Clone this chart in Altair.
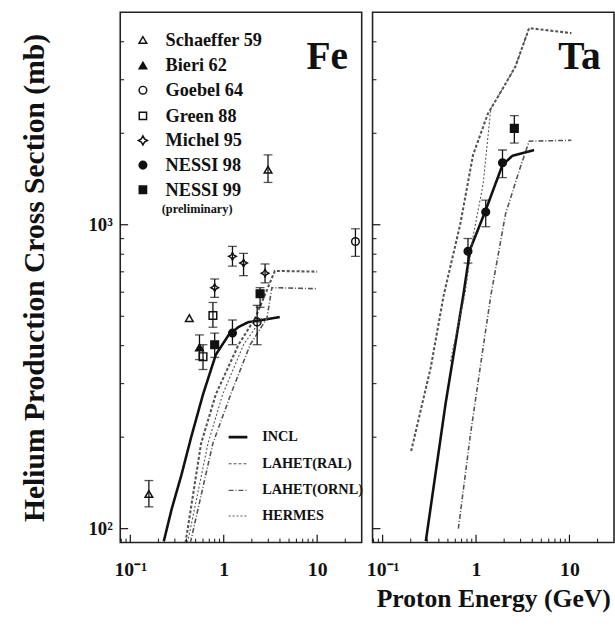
import altair as alt
import pandas as pd

FONT = "Liberation Serif"
INK = "#111111"

# ---------------- tick values ----------------
X_MAJOR = [0.1, 1, 10]
X_MINOR = [0.08, 0.09, 0.2, 0.3, 0.4, 0.5, 0.6, 0.7, 0.8, 0.9,
           2, 3, 4, 5, 6, 7, 8, 9, 20]
Y_MAJOR = [100, 1000]
Y_MINOR = [200, 300, 400, 500, 600, 700, 800, 900, 2000, 3000, 4000]

X_DOMAIN = [0.078, 30]
Y_DOMAIN = [90, 5000]

# ---------------- Fe : experimental data (GeV, mb, err low, err high) ----------------
fe_schaeffer_e = [0.158, 0.428, 2.98]
fe_schaeffer_s = [130, 493, 1517]
fe_schaeffer_lo = [118, None, 1378]
fe_schaeffer_hi = [144, None, 1698]

fe_bieri_e = [0.55]
fe_bieri_s = [395]
fe_bieri_lo = [360]
fe_bieri_hi = [434]

fe_goebel_e = [2.28, 25.7]
fe_goebel_s = [479, 881]
fe_goebel_lo = [403, 787]
fe_goebel_hi = [543, 970]

fe_green_e = [0.60, 0.766]
fe_green_s = [368, 503]
fe_green_lo = [334, 460]
fe_green_hi = [403, 555]

fe_michel_e = [0.80, 1.24, 1.63, 2.77]
fe_michel_s = [621, 787, 748, 693]
fe_michel_lo = [577, 731, 680, 644]
fe_michel_hi = [663, 849, 805, 743]

fe_nessi98_e = [1.24]
fe_nessi98_s = [440]
fe_nessi98_lo = [403]
fe_nessi98_hi = [486]

fe_nessi99_e = [0.80, 2.45]
fe_nessi99_s = [403, 593]
fe_nessi99_lo = [366, 535]
fe_nessi99_hi = [440, 621]

# ---------------- Ta : experimental data ----------------
ta_nessi98_e = [0.82, 1.27, 1.92]
ta_nessi98_s = [818, 1102, 1600]
ta_nessi98_lo = [748, 985, 1429]
ta_nessi98_hi = [901, 1205, 1762]

ta_nessi99_e = [2.57]
ta_nessi99_s = [2075]
ta_nessi99_lo = [1857]
ta_nessi99_hi = [2286]

# ---------------- model curves ----------------
fe_incl_e = [0.228, 0.277, 0.352, 0.450, 0.601, 0.824, 1.13, 1.44, 1.83, 2.57, 3.98]
fe_incl_s = [90.8, 116, 150, 201, 277, 374, 434, 461, 478, 486, 497]
fe_ral_e = [0.39, 0.573, 0.824, 1.44, 2.17, 3.53, 10]
fe_ral_s = [90, 191, 277, 403, 493, 705, 701]
fe_ornl_e = [0.44, 0.766, 1.19, 1.92, 2.90, 3.28, 10]
fe_ornl_s = [90, 191, 277, 403, 493, 621, 616]
fe_hermes_e = [0.41, 0.679, 0.976, 1.63, 2.57]
fe_hermes_s = [90, 191, 277, 403, 493]

ta_incl_e = [0.290, 0.472, 0.730, 0.865, 1.27, 1.92, 2.45, 4.18]
ta_incl_s = [91, 258, 585, 830, 1118, 1574, 1686, 1762]
ta_ral_e = [0.202, 0.328, 0.45, 0.679, 0.929, 1.34, 1.92, 2.64, 3.70, 10.5]
ta_ral_s = [180, 340, 585, 1007, 1698, 2321, 2797, 3318, 4436, 4272]
ta_ornl_e = [0.647, 0.865, 1.19, 1.44, 2.07, 2.90, 3.70, 10.5]
ta_ornl_s = [100, 201, 394, 585, 1086, 1507, 1884, 1896]
ta_hermes_e = [0.53, 0.766, 0.929, 1.19, 1.44, 1.92, 2.64, 3.70]
ta_hermes_s = [355, 598, 914, 1359, 2410, 2797, 3318, 4436]

SERIES = ["Schaeffer 59", "Bieri 62", "Goebel 64", "Green 88",
          "Michel 95", "NESSI 98", "NESSI 99"]
MODELS = ["INCL", "LAHET(RAL)", "LAHET(ORNL)", "HERMES"]

# ---------------- styles ----------------
MICHEL_PATH = "M0,-1L0.35,-0.35L1,0L0.35,0.35L0,1L-0.35,0.35L-1,0L-0.35,-0.35Z"
SHAPES = ["triangle-up", "triangle-up", "circle", "square", MICHEL_PATH, "circle", "square"]
FILLS = ["transparent", INK, "transparent", "transparent", "transparent", INK, INK]
SIZES = [60, 60, 60, 55, 85, 60, 55]
DASHES = [[1, 0], [3, 2], [5, 2, 1, 2], [2, 2]]
WIDTHS = [2.6, 1.1, 1.1, 1.1]
LCOLORS = [INK, "#555555", "#555555", "#555555"]

W, H = 245, 538


def pts(series, e, s, lo, hi):
    return pd.DataFrame({"series": series, "x": e, "y": s, "lo": lo, "hi": hi})


def crv(model, e, s):
    return pd.DataFrame({"model": model, "x": e, "y": s})


fe_points = pd.concat([
    pts("Schaeffer 59", fe_schaeffer_e, fe_schaeffer_s, fe_schaeffer_lo, fe_schaeffer_hi),
    pts("Bieri 62", fe_bieri_e, fe_bieri_s, fe_bieri_lo, fe_bieri_hi),
    pts("Goebel 64", fe_goebel_e, fe_goebel_s, fe_goebel_lo, fe_goebel_hi),
    pts("Green 88", fe_green_e, fe_green_s, fe_green_lo, fe_green_hi),
    pts("Michel 95", fe_michel_e, fe_michel_s, fe_michel_lo, fe_michel_hi),
    pts("NESSI 98", fe_nessi98_e, fe_nessi98_s, fe_nessi98_lo, fe_nessi98_hi),
    pts("NESSI 99", fe_nessi99_e, fe_nessi99_s, fe_nessi99_lo, fe_nessi99_hi),
], ignore_index=True)

ta_points = pd.concat([
    pts("NESSI 98", ta_nessi98_e, ta_nessi98_s, ta_nessi98_lo, ta_nessi98_hi),
    pts("NESSI 99", ta_nessi99_e, ta_nessi99_s, ta_nessi99_lo, ta_nessi99_hi),
], ignore_index=True)

fe_curves = pd.concat([
    crv("INCL", fe_incl_e, fe_incl_s),
    crv("LAHET(RAL)", fe_ral_e, fe_ral_s),
    crv("LAHET(ORNL)", fe_ornl_e, fe_ornl_s),
    crv("HERMES", fe_hermes_e, fe_hermes_s),
], ignore_index=True)

ta_curves = pd.concat([
    crv("INCL", ta_incl_e, ta_incl_s),
    crv("LAHET(RAL)", ta_ral_e, ta_ral_s),
    crv("LAHET(ORNL)", ta_ornl_e, ta_ornl_s),
    crv("HERMES", ta_hermes_e, ta_hermes_s),
], ignore_index=True)


def xs():
    return alt.Scale(type="log", domain=X_DOMAIN, nice=False, padding=0)


def ys():
    return alt.Scale(type="log", domain=Y_DOMAIN, nice=False, padding=0)


def panel(curves, points, name, left, legend):
    xkw = dict(values=X_MAJOR,
               labelExpr="datum.value < 0.5 ? '10⁻¹' : (datum.value < 5 ? '1' : '10')",
               tickSize=0, domain=False, grid=False, labelFlush=False,
               labelFont=FONT, labelFontSize=20, labelFontWeight="bold",
               labelColor=INK, labelPadding=17)
    if left:
        xkw["title"] = None
    else:
        xkw.update(title="Proton Energy (GeV)", titleFont=FONT, titleFontSize=26,
                   titleFontWeight="bold", titleColor=INK, titlePadding=7)
    x_enc = alt.X("x:Q", scale=xs(), axis=alt.Axis(**xkw))
    if left:
        y_enc = alt.Y("y:Q", scale=ys(), axis=alt.Axis(
            values=Y_MAJOR, labelExpr="datum.value < 500 ? '10²' : '10³'",
            tickSize=0, domain=False, grid=False, labelFont=FONT, labelFontSize=19,
            labelFontWeight="bold", labelColor=INK, labelPadding=8,
            title="Helium Production Cross Section (mb)", titleFont=FONT,
            titleFontSize=30, titleFontWeight="bold", titleColor=INK,
            titlePadding=39))
    else:
        y_enc = alt.Y("y:Q", scale=ys(), axis=None)

    lines = alt.Chart(curves).mark_line(clip=True).encode(
        x=x_enc, y=y_enc,
        detail="model:N",
        strokeDash=alt.StrokeDash("model:N", scale=alt.Scale(domain=MODELS, range=DASHES), legend=None),
        strokeWidth=alt.StrokeWidth("model:N", scale=alt.Scale(domain=MODELS, range=WIDTHS), legend=None),
        color=alt.Color("model:N", scale=alt.Scale(domain=MODELS, range=LCOLORS), legend=None),
        order=alt.Order("x:Q"),
    )

    ebars = points.dropna(subset=["lo", "hi"])
    xq = alt.X("x:Q", scale=xs())
    rules = alt.Chart(ebars).mark_rule(color=INK, strokeWidth=1.3).encode(
        x=xq, y=alt.Y("lo:Q", scale=ys()), y2="hi:Q")
    cap_lo = alt.Chart(ebars).mark_tick(color=INK, orient="horizontal", size=9, thickness=1.3).encode(
        x=xq, y=alt.Y("lo:Q", scale=ys()))
    cap_hi = alt.Chart(ebars).mark_tick(color=INK, orient="horizontal", size=9, thickness=1.3).encode(
        x=xq, y=alt.Y("hi:Q", scale=ys()))

    marks = alt.Chart(points).mark_point(filled=True, stroke=INK, strokeWidth=1.5, opacity=1).encode(
        x=xq, y=alt.Y("y:Q", scale=ys()),
        shape=alt.Shape("series:N", scale=alt.Scale(domain=SERIES, range=SHAPES), legend=None),
        fill=alt.Fill("series:N", scale=alt.Scale(domain=SERIES, range=FILLS), legend=None),
        size=alt.Size("series:N", scale=alt.Scale(domain=SERIES, range=SIZES), legend=None),
    )

    # inward ticks along bottom and left edges
    xmaj = alt.Chart(pd.DataFrame({"v": X_MAJOR})).mark_rule(color=INK, strokeWidth=1.2).encode(
        x=alt.X("v:Q", scale=xs()), y=alt.value(H), y2=alt.value(H - 8))
    xmin = alt.Chart(pd.DataFrame({"v": X_MINOR})).mark_rule(color=INK, strokeWidth=1).encode(
        x=alt.X("v:Q", scale=xs()), y=alt.value(H), y2=alt.value(H - 4))
    ymaj = alt.Chart(pd.DataFrame({"v": Y_MAJOR})).mark_rule(color=INK, strokeWidth=1.2).encode(
        y=alt.Y("v:Q", scale=ys()), x=alt.value(0), x2=alt.value(8))
    ymin = alt.Chart(pd.DataFrame({"v": Y_MINOR})).mark_rule(color=INK, strokeWidth=1).encode(
        y=alt.Y("v:Q", scale=ys()), x=alt.value(0), x2=alt.value(4))

    title = alt.Chart(pd.DataFrame({"t": [name]})).mark_text(
        font=FONT, fontSize=40, fontWeight="bold", color=INK, align="center", baseline="middle"
    ).encode(text="t:N", x=alt.value(210), y=alt.value(45))

    layers = [lines, rules, cap_lo, cap_hi, marks, xmaj, xmin, ymaj, ymin, title]

    if legend:
        ly = [28, 54, 79, 105, 130, 155, 180]
        for ser, shp, fil, sz, yy in zip(SERIES, SHAPES, FILLS, SIZES, ly):
            layers.append(alt.Chart(pd.DataFrame({"t": [ser]})).mark_point(
                shape=shp, fill=fil, filled=True, stroke=INK, strokeWidth=1.5, size=sz, opacity=1
            ).encode(x=alt.value(23), y=alt.value(yy)))
            layers.append(alt.Chart(pd.DataFrame({"t": [ser]})).mark_text(
                font=FONT, fontSize=18.5, fontWeight="bold", color=INK, align="left", baseline="middle"
            ).encode(text="t:N", x=alt.value(46), y=alt.value(yy)))
        layers.append(alt.Chart(pd.DataFrame({"t": ["(preliminary)"]})).mark_text(
            font=FONT, fontSize=12.5, fontWeight="bold", color=INK, align="center", baseline="middle"
        ).encode(text="t:N", x=alt.value(78), y=alt.value(200)))

        cy = [431, 458, 485, 511]
        for mdl, dsh, wd, col, yy in zip(MODELS, DASHES, WIDTHS, LCOLORS, cy):
            layers.append(alt.Chart(pd.DataFrame({"t": [mdl]})).mark_rule(
                strokeDash=dsh, strokeWidth=wd, color=col
            ).encode(x=alt.value(110), x2=alt.value(129), y=alt.value(yy)))
            layers.append(alt.Chart(pd.DataFrame({"t": [mdl]})).mark_text(
                font=FONT, fontSize=14.5, fontWeight="bold", color=INK, align="left", baseline="middle"
            ).encode(text="t:N", x=alt.value(144), y=alt.value(yy)))

    return alt.layer(*layers).properties(width=W, height=H)


fe = panel(fe_curves, fe_points, "Fe", True, True)
ta = panel(ta_curves, ta_points, "Ta", False, False)

chart = alt.hconcat(fe, ta, spacing=0).properties(
    padding={"left": 19, "top": 7, "right": 0, "bottom": 0},
    background="white",
).configure_view(
    stroke="#222222", strokeWidth=1.6
)

chart.save("out.html", embed_options={"renderer": "svg", "actions": False})
